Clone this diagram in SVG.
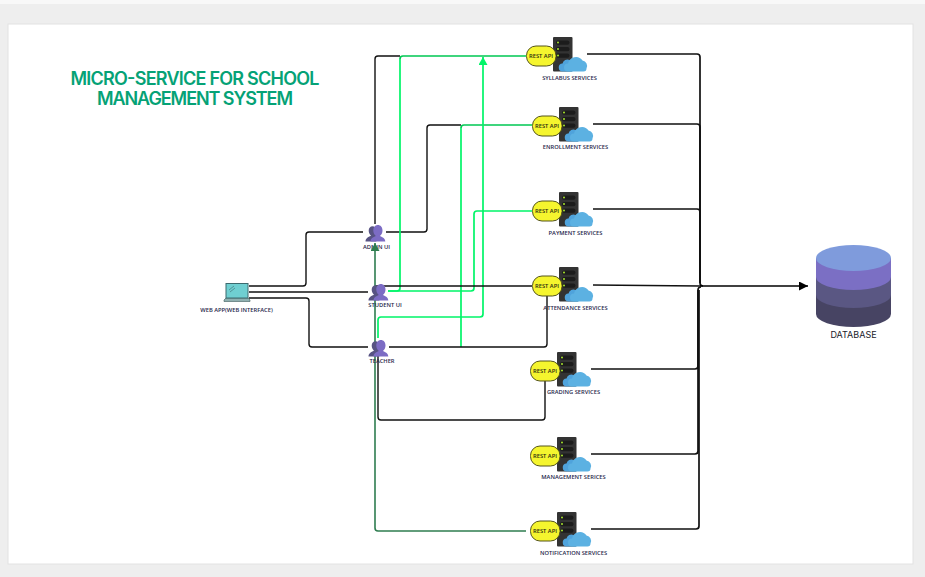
<svg xmlns="http://www.w3.org/2000/svg" xmlns:xlink="http://www.w3.org/1999/xlink" width="925" height="577" viewBox="0 0 925 577">
<style>
text{font-family:"Open Sans","Liberation Sans",sans-serif;text-anchor:middle;fill:#26264a}
.lbl{font-size:5.75px;font-weight:600}
.api{font-size:5.75px;font-weight:600;fill:#2a2a10}
.title{font-family:Inter,"Liberation Sans",sans-serif;font-size:18px;font-weight:600;fill:#05a276}
.db{font-family:Inter,"Liberation Sans",sans-serif;font-size:9px;fill:#1a1a2a}
.c{fill:none;stroke-width:1.4;stroke-linejoin:round}
.k{stroke:#111}
.t{stroke:#111;stroke-width:1.7}
.g{stroke:#00f568;stroke-width:1.7}
.gd{stroke:#00c853;stroke-width:1.7}
.dg{stroke:#2f7d50;stroke-width:1.6}
</style>
<defs>
<marker id="ag" markerUnits="userSpaceOnUse" markerWidth="9" markerHeight="9" refX="8" refY="4.500" orient="auto"><path d="M0 0L8 4.500L0 9z" fill="#00f568"/></marker>
<marker id="adg" markerUnits="userSpaceOnUse" markerWidth="9" markerHeight="9" refX="8" refY="4.500" orient="auto"><path d="M0 0L8 4.500L0 9z" fill="#2f7d50"/></marker>
<marker id="ak" markerUnits="userSpaceOnUse" markerWidth="10" markerHeight="9" refX="9" refY="4.500" orient="auto"><path d="M0 0L9 4.500L0 9z" fill="#000"/></marker>
<g id="svc">
<rect x="553" y="37" width="19.500" height="34.500" rx="1" fill="#333"/>
<rect x="556" y="40.500" width="13.500" height="4.200" rx="2" fill="#1c1c1c"/>
<rect x="556" y="47" width="13.500" height="4.200" rx="2" fill="#1c1c1c"/>
<rect x="556" y="53.500" width="13.500" height="4.200" rx="2" fill="#1c1c1c"/>
<circle cx="558" cy="42.600" r="1" fill="#a6e22e"/>
<circle cx="558" cy="49.100" r="1" fill="#a6e22e"/>
<circle cx="558" cy="55.600" r="1" fill="#a6e22e"/>
<path d="M563 71.500a4 4 0 0 1-.500-8a5 5 0 0 1 7-3.500a4 4 0 0 1 3 1.500v10z" fill="#4fa3dc"/>
<path d="M568 71.500a4 4 0 0 1 0-8a8 8 0 0 1 14.500-3a5.500 5.500 0 0 1 4 8q0 3-3 3z" fill="#5cb1e2"/>
<rect x="526.500" y="46" width="29.500" height="20" rx="9.500" fill="#f5f52e" stroke="#55551a" stroke-width="1"/>
<text class="api" x="541" y="57.800">REST API</text>
</g>
<g id="person" transform="scale(1)">
<path d="M-10 9.500c0-3 2.500-4.500 5.500-5.800c-1.600-1.600-2.300-3.300-2.300-5.200c0-2.700 1.700-4.300 3.800-4.300s3.800 1.600 3.800 4.300v11z" fill="#575383"/>
<path d="M-5 9.500c0-3 2.700-4.300 5.300-5.500c-1.700-1.600-2.500-3.500-2.500-5.600c0-3.200 2-5.400 4.600-5.400s4.600 2.200 4.600 5.400c0 2.100-.8 4-2.500 5.600c2.600 1.200 5.300 2.500 5.300 5.500z" fill="#7c6cc4"/>
</g>
</defs>
<rect width="925" height="577" fill="#eeeeee"/>
<rect width="925" height="4" fill="#f8f8f8"/>
<rect x="8" y="24" width="905" height="540" fill="#fff" stroke="#e2e2e2"/>
<text class="title" x="195" y="85" textLength="249">MICRO-SERVICE FOR SCHOOL</text>
<text class="title" x="195" y="105" textLength="196">MANAGEMENT SYSTEM</text>
<g id="node-admin">
<use xlink:href="#person" href="#person" x="375.500" y="232"/>
<text class="lbl" x="376.500" y="249">ADMIN UI</text>
</g>
<g id="connectors">
<path class="c k" d="M249 286H303q3 0 3-3V235q0-3 3-3H363"/>
<path class="c k" d="M249 292L368 292"/>
<path class="c k" d="M249 298H306q3 0 3 3V344q0 3 3 3H368"/>
<path class="c k" d="M375 224V59q0-3 3-3H400"/>
<path class="c k" d="M386 232H424q3 0 3-3V128q0-3 3-3H461"/>
<path class="c k" d="M378 356V417q0 3 3 3H542q3 0 3-3V381"/>
<path class="c t" d="M587 54H697q3 0 3 3V283q0 3 3 3"/>
<path class="c t" d="M593 124H697q3 0 3 3V283"/>
<path class="c t" d="M593 209H697q3 0 3 3V283"/>
<path class="c t" d="M591 369H695q3 0 3-3V290q0-3 3-3"/>
<path class="c t" d="M591 454H695q3 0 3-3V290"/>
<path class="c t" d="M591 529H696q3 0 3-3V290"/>
<path class="c k" d="M593 285L700 286"/>
<path class="c" stroke="#000" stroke-width="2" d="M700 286H808" marker-end="url(#ak)"/>
<path class="c g" d="M388 291H397q3 0 3-3V59"/>
<path class="c gd" d="M400 59q0-3 3-3H526"/>
<path class="c g" d="M461 347V128"/>
<path class="c gd" d="M461 128q0-3 3-3H532"/>
<path class="c g" d="M388 291H471q3 0 3-3V214q0-3 3-3H532"/>
<path class="c g" d="M378 338V320q0-3 3-3H480q3 0 3-3V57" marker-end="url(#ag)"/>
<path class="c k" d="M375 286H532"/>
<path class="c k" d="M389 347H544q3 0 3-3V296"/>
<path class="c dg" d="M526 531H378q-3 0-3-3V243" marker-end="url(#adg)"/>
</g>
<g id="node-webapp">
<path d="M224 300l2-2h22l2 2v1.500h-26z" fill="#8fb0b0" stroke="#3c5a5c" stroke-width=".6"/>
<rect x="226" y="283.500" width="22" height="14.500" fill="#6fcfd1" stroke="#3c6a6e" stroke-width="1"/>
<path d="M229 290l5-4M230 292l5-4" stroke="#3c6a6e" stroke-width=".6"/>
<text class="lbl" x="236.500" y="311.500">WEB APP(WEB INTERFACE)</text>
</g>
<g id="node-student">
<use xlink:href="#person" href="#person" x="378.500" y="291"/>
<text class="lbl" x="385" y="307">STUDENT UI</text>
</g>
<g id="node-teacher">
<use xlink:href="#person" href="#person" x="378.500" y="347"/>
<text class="lbl" x="382" y="363">TEACHER</text>
</g>
<g id="node-syllabus"><use xlink:href="#svc" href="#svc"/><text class="lbl" x="569.500" y="79.500">SYLLABUS SERVICES</text></g>
<g id="node-enrollment"><use xlink:href="#svc" href="#svc" x="6" y="70"/><text class="lbl" x="575.500" y="149">ENROLLMENT SERVICES</text></g>
<g id="node-payment"><use xlink:href="#svc" href="#svc" x="6" y="155"/><text class="lbl" x="575.500" y="234.500">PAYMENT SERVICES</text></g>
<g id="node-attendance"><use xlink:href="#svc" href="#svc" x="6" y="230"/><text class="lbl" x="575.500" y="309.800">ATTENDANCE SERVICES</text></g>
<g id="node-grading"><use xlink:href="#svc" href="#svc" x="4" y="315"/><text class="lbl" x="573.500" y="393.800">GRADING SERVICES</text></g>
<g id="node-management"><use xlink:href="#svc" href="#svc" x="4" y="400"/><text class="lbl" x="573.500" y="478.800">MANAGEMENT SERICES</text></g>
<g id="node-notification"><use xlink:href="#svc" href="#svc" x="4" y="475"/><text class="lbl" x="573.500" y="554.800">NOTIFICATION SERVICES</text></g>
<g id="node-database">
<path d="M816 295v19a37.500 13 0 0 0 75 0v-19z" fill="#474463"/>
<path d="M816 277v18a37.500 13 0 0 0 75 0v-18z" fill="#5a5783"/>
<path d="M816 258v19a37.500 13 0 0 0 75 0v-19z" fill="#7b6fc4"/>
<ellipse cx="853.500" cy="258" rx="37.500" ry="13" fill="#7f9bdc"/>
<text class="db" x="853.500" y="338">DATABASE</text>
</g>
</svg>
